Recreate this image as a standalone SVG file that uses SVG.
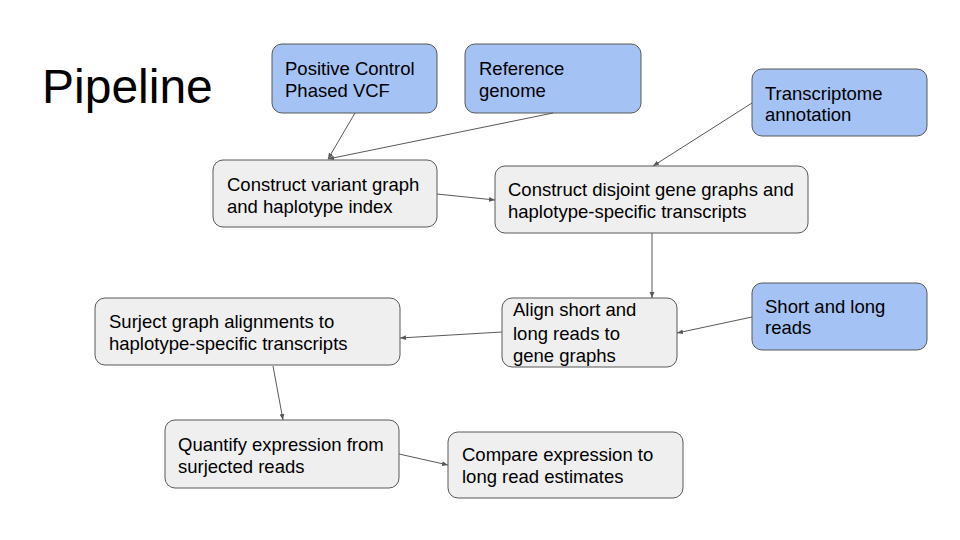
<svg xmlns="http://www.w3.org/2000/svg" width="960" height="540" viewBox="0 0 960 540">
<style>
.b{fill:#a4c2f4;stroke:#595959;stroke-width:1}
.g{fill:#efefef;stroke:#595959;stroke-width:1}
text{font-family:"Liberation Sans",Arial,sans-serif;font-size:18.5px;fill:#000}
.c line{stroke:#595959;stroke-width:1;marker-end:url(#ah)}
</style>
<defs>
<marker id="ah" viewBox="0 0 10 10" refX="10" refY="5" markerWidth="6" markerHeight="6" markerUnits="userSpaceOnUse" orient="auto">
<path d="M0,1 L10,5 L0,9 z" fill="#595959"/>
</marker>
</defs>
<rect width="960" height="540" fill="#fff"/>
<text x="42" y="103" style="font-size:48px">Pipeline</text>
<g id="pcvcf"><rect class="b" x="272" y="44" width="165" height="69" rx="10"/><text x="285" y="75">Positive Control</text><text x="285" y="97">Phased VCF</text></g>
<g id="refgenome"><rect class="b" x="465" y="44" width="176" height="69" rx="10"/><text x="479" y="75">Reference</text><text x="479" y="97">genome</text></g>
<g id="transcriptome"><rect class="b" x="752" y="69" width="175" height="67" rx="10"/><text x="765" y="100">Transcriptome</text><text x="765" y="121">annotation</text></g>
<g id="variantgraph"><rect class="g" x="213" y="160" width="224" height="67" rx="10"/><text x="227" y="191">Construct variant graph</text><text x="227" y="213">and haplotype index</text></g>
<g id="genegraphs"><rect class="g" x="495" y="166" width="313" height="67" rx="10"/><text x="508" y="196">Construct disjoint gene graphs and</text><text x="508" y="218">haplotype-specific transcripts</text></g>
<g id="align"><rect class="g" x="502" y="298" width="175" height="69" rx="10"/><text x="513" y="316">Align short and</text><text x="513" y="340">long reads to</text><text x="513" y="362">gene graphs</text></g>
<g id="reads"><rect class="b" x="752" y="283" width="175" height="67" rx="10"/><text x="765" y="313">Short and long</text><text x="765" y="334">reads</text></g>
<g id="surject"><rect class="g" x="95" y="298" width="305" height="67" rx="10"/><text x="109" y="328">Surject graph alignments to</text><text x="109" y="350">haplotype-specific transcripts</text></g>
<g id="quantify"><rect class="g" x="165" y="420" width="234" height="68" rx="10"/><text x="178" y="451">Quantify expression from</text><text x="178" y="473">surjected reads</text></g>
<g id="compare"><rect class="g" x="448" y="432" width="235" height="66" rx="10"/><text x="462" y="461">Compare expression to</text><text x="462" y="483">long read estimates</text></g>
<g class="c" id="connectors">
<line x1="355" y1="113" x2="328" y2="159"/>
<line x1="553" y1="113" x2="328" y2="159"/>
<line x1="752" y1="103" x2="653" y2="166"/>
<line x1="437" y1="194" x2="495" y2="200"/>
<line x1="652" y1="233" x2="652" y2="298"/>
<line x1="752" y1="317" x2="677" y2="333"/>
<line x1="502" y1="332" x2="400" y2="338"/>
<line x1="273" y1="366" x2="283" y2="420"/>
<line x1="399" y1="454" x2="448" y2="465"/>
</g>
</svg>
